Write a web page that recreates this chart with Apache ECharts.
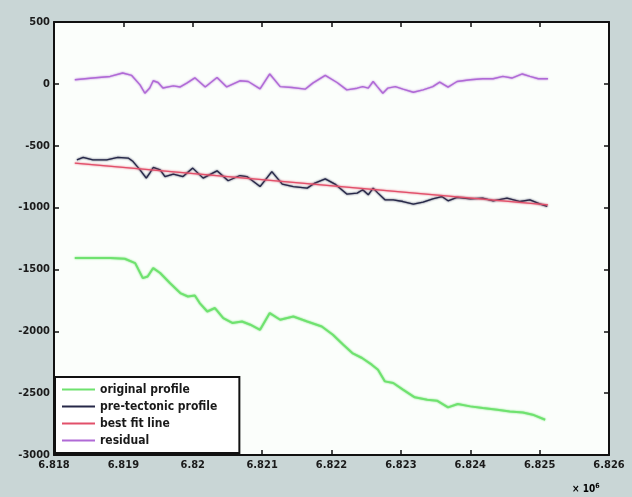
<!DOCTYPE html>
<html>
<head>
<meta charset="utf-8">
<script src="https://cdn.jsdelivr.net/npm/echarts@6/dist/echarts.min.js"></script>
<style>
  html, body { margin: 0; padding: 0; background: #c9d6d6; }
  #chart { width: 632px; height: 497px; }
</style>
</head>
<body>
<div id="chart"></div>
<script>
// Easting positions are in units of 10^6 m; elevations in m.
const xTickMin = 6.818;
const xTickMax = 6.826;
const xTickStep = 0.001;
const yTickMin = -3000;
const yTickMax = 500;
const yTickStep = 500;

const seriesNames = ['original profile', 'pre-tectonic profile', 'best fit line', 'residual'];

const originalX = [6.81830, 6.81856, 6.81881, 6.81902, 6.81917, 6.81928, 6.81935, 6.81943, 6.81953, 6.81967,
  6.81982, 6.81993, 6.82003, 6.82010, 6.82021, 6.82032, 6.82044, 6.82057, 6.82071, 6.82083,
  6.82097, 6.82111, 6.82126, 6.82145, 6.82165, 6.82186, 6.82202, 6.82217, 6.82230, 6.82244,
  6.82258, 6.82267, 6.82277, 6.82289, 6.82303, 6.82320, 6.82338, 6.82352, 6.82368, 6.82382,
  6.82400, 6.82418, 6.82439, 6.82457, 6.82476, 6.82490, 6.82508];
const originalY = [-1408, -1408, -1408, -1414, -1449, -1570, -1557, -1489, -1529, -1610,
  -1691, -1719, -1711, -1772, -1840, -1812, -1893, -1933, -1921, -1947,
  -1988, -1853, -1907, -1880, -1921, -1961, -2028, -2109, -2176, -2216,
  -2270, -2311, -2405, -2418, -2472, -2534, -2553, -2561, -2615, -2588,
  -2607, -2620, -2634, -2648, -2656, -2674, -2715];

const preTectonicX = [6.81833, 6.81842, 6.81856, 6.81876, 6.81892, 6.81907, 6.81914, 6.81924, 6.81933, 6.81938,
  6.81943, 6.81953, 6.81960, 6.81972, 6.81986, 6.82000, 6.82015, 6.82035, 6.82051, 6.82068,
  6.82078, 6.82097, 6.82114, 6.82129, 6.82145, 6.82165, 6.82176, 6.82191, 6.82205, 6.82222,
  6.82237, 6.82245, 6.82253, 6.82260, 6.82267, 6.82277, 6.82289, 6.82303, 6.82318, 6.82332,
  6.82346, 6.82359, 6.82368, 6.82381, 6.82400, 6.82418, 6.82433, 6.82453, 6.82472, 6.82486,
  6.82501, 6.82511];
const preTectonicY = [-614, -595, -614, -614, -595, -600, -628, -695, -762, -721,
  -676, -695, -749, -729, -749, -681, -762, -703, -783, -741,
  -749, -830, -709, -810, -830, -843, -802, -768, -810, -891,
  -883, -856, -897, -843, -883, -937, -937, -951, -972, -956,
  -929, -911, -945, -918, -929, -923, -945, -923, -951, -937,
  -972, -991];

const bestFitX = [6.81830, 6.82512];
const bestFitY = [-641, -978];

const residualX = [6.81830, 6.81856, 6.81881, 6.81899, 6.81912, 6.81924, 6.81931, 6.81938, 6.81943, 6.81950,
  6.81957, 6.81972, 6.81982, 6.81992, 6.82003, 6.82018, 6.82035, 6.82049, 6.82068, 6.82080,
  6.82097, 6.82111, 6.82126, 6.82143, 6.82162, 6.82173, 6.82191, 6.82208, 6.82222, 6.82237,
  6.82245, 6.82253, 6.82260, 6.82266, 6.82274, 6.82281, 6.82292, 6.82303, 6.82318, 6.82332,
  6.82346, 6.82356, 6.82368, 6.82381, 6.82400, 6.82418, 6.82433, 6.82447, 6.82460, 6.82475,
  6.82486, 6.82498, 6.82512];
const residualY = [33, 47, 60, 88, 68, -8, -76, -33, 25, 11,
  -33, -16, -25, 8, 49, -25, 52, -25, 25, 19,
  -41, 80, -22, -30, -43, 6, 68, 11, -49, -35,
  -22, -35, 19, -22, -76, -35, -22, -43, -68, -49,
  -22, 14, -27, 19, 33, 41, 41, 60, 47, 80,
  60, 41, 41];

const seriesColors = ['#6fe26f', '#262848', '#e2506a', '#b06ad6'];

function pairs(xs, ys) {
  return xs.map((x, i) => [x, ys[i]]);
}

const labelFont = {
  fontFamily: 'DejaVu Sans Condensed',
  fontWeight: 'bold',
  fontSize: 11,
  color: '#1a1a1a'
};

const axisLine = { show: true, onZero: false, lineStyle: { color: '#111', width: 2 } };
const axisTick = { show: true, inside: true, length: 5, lineStyle: { color: '#111', width: 1.5 } };

const chart = echarts.init(document.getElementById('chart'), null, { renderer: 'canvas' });

chart.setOption({
  backgroundColor: '#c9d6d6',
  animation: false,
  grid: {
    left: 54, right: 23, top: 22, bottom: 42,
    show: true, backgroundColor: '#fbfefb', borderWidth: 0
  },
  legend: {
    data: seriesNames,
    orient: 'vertical',
    left: 55, top: 377,
    padding: [5, 22, 5, 7],
    itemGap: 2,
    itemWidth: 33,
    itemHeight: 2,
    icon: 'rect',
    backgroundColor: '#ffffff',
    borderColor: '#111',
    borderWidth: 2,
    borderRadius: 0,
    textStyle: Object.assign({}, labelFont, { fontSize: 12, lineHeight: 15, padding: [0, 0, 0, 0] })
  },
  xAxis: [
    {
      type: 'value', position: 'bottom',
      min: xTickMin, max: xTickMax, interval: xTickStep,
      axisLine, axisTick, splitLine: { show: false },
      axisLabel: Object.assign({}, labelFont, {
        margin: 5,
        formatter: v => String(parseFloat(v.toFixed(3)))
      })
    },
    {
      type: 'value', position: 'top',
      min: xTickMin, max: xTickMax, interval: xTickStep,
      axisLine, axisTick, splitLine: { show: false },
      axisLabel: { show: false }
    }
  ],
  yAxis: [
    {
      type: 'value', position: 'left',
      min: yTickMin, max: yTickMax, interval: yTickStep,
      axisLine, axisTick, splitLine: { show: false },
      axisLabel: Object.assign({}, labelFont, {
        margin: 4,
        formatter: v => String(Math.round(v))
      })
    },
    {
      type: 'value', position: 'right',
      min: yTickMin, max: yTickMax, interval: yTickStep,
      axisLine, axisTick, splitLine: { show: false },
      axisLabel: { show: false }
    }
  ],
  graphic: [
    {
      type: 'text',
      left: 572, top: 483,
      style: {
        text: '{a|\u00d7 10}{b|6}',
        rich: {
          a: Object.assign({}, labelFont, { fontSize: 10 }),
          b: Object.assign({}, labelFont, { fontSize: 7, verticalAlign: 'top', padding: [0, 0, 6, 0] })
        }
      }
    }
  ],
  series: [
    { name: seriesNames[0], data: pairs(originalX, originalY), color: seriesColors[0], lineWidth: 2 },
    { name: seriesNames[1], data: pairs(preTectonicX, preTectonicY), color: seriesColors[1], lineWidth: 1.3 },
    { name: seriesNames[2], data: pairs(bestFitX, bestFitY), color: seriesColors[2], lineWidth: 1.4 },
    { name: seriesNames[3], data: pairs(residualX, residualY), color: seriesColors[3], lineWidth: 1.4 }
  ].map(s => ({
    type: 'line',
    name: s.name,
    data: s.data,
    xAxisIndex: 0,
    yAxisIndex: 0,
    symbol: 'none',
    smooth: false,
    color: s.color,
    itemStyle: { color: s.color },
    lineStyle: { color: s.color, width: s.lineWidth, shadowColor: s.color, shadowBlur: 2 }
  }))
});
</script>
</body>
</html>
